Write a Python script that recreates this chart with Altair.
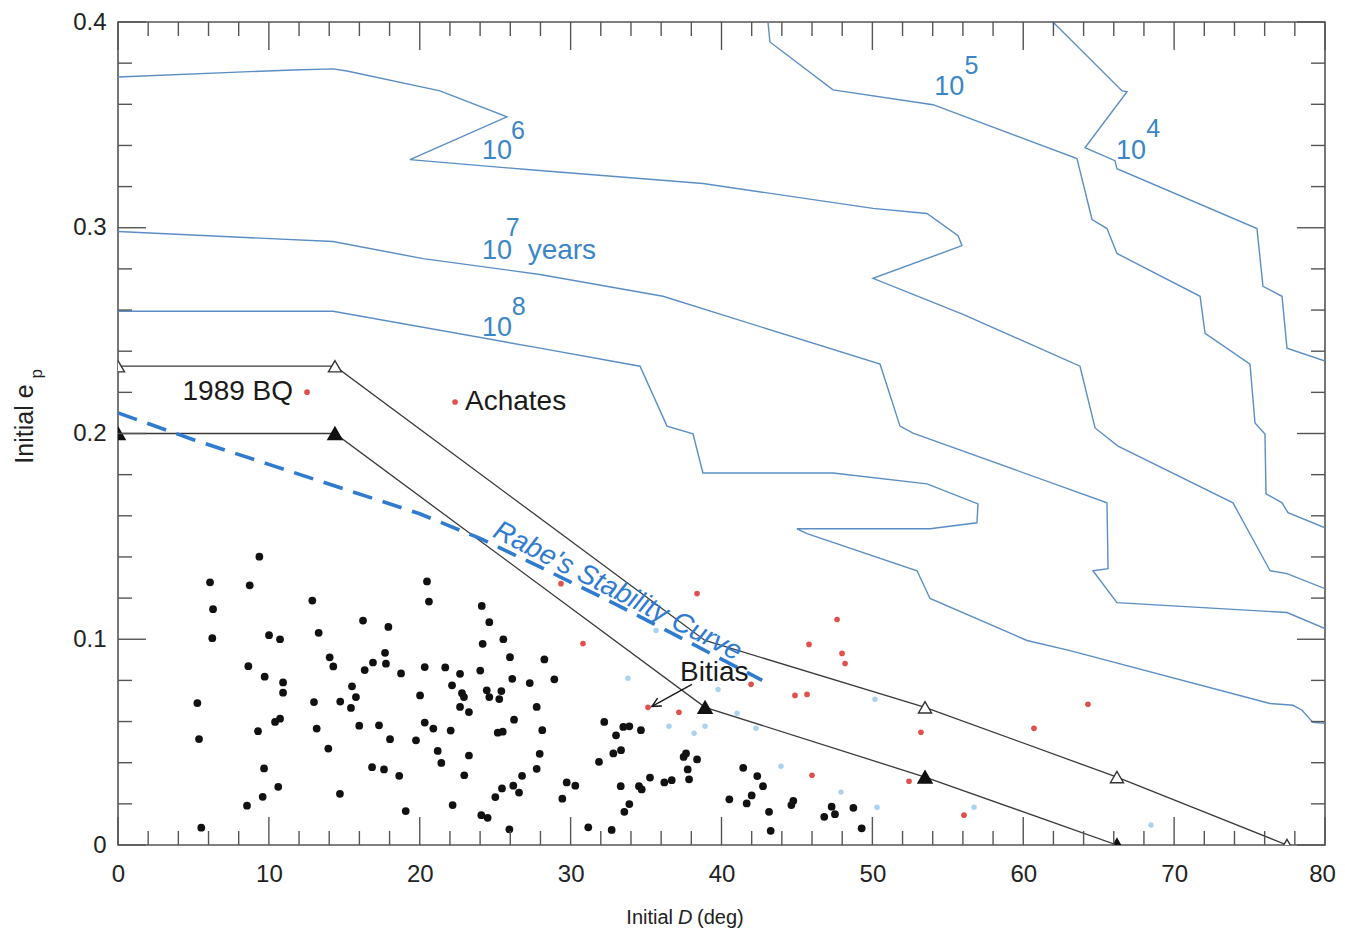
import altair as alt
import pandas as pd

# ---------------- data ----------------
x_major = [0, 10, 20, 30, 40, 50, 60, 70, 80]
x_minor = [2, 4, 6, 8, 12, 14, 16, 18, 22, 24, 26, 28, 32, 34, 36, 38, 42, 44, 46, 48,
           52, 54, 56, 58, 62, 64, 66, 68, 72, 74, 76, 78]
y_major = [0, 0.1, 0.2, 0.3, 0.4]
y_minor = [0.02, 0.04, 0.06, 0.08, 0.12, 0.14, 0.16, 0.18, 0.22, 0.24, 0.26, 0.28,
           0.32, 0.34, 0.36, 0.38]

black_D = [9.37, 6.10, 8.73, 12.88, 6.30, 10.01, 10.74, 6.25, 13.30, 14.03,
           14.27, 8.64, 9.72, 10.94, 10.94, 15.51, 5.26, 12.99, 14.73, 15.44,
           5.37, 9.28, 10.41, 10.74, 13.17, 13.94, 9.68, 10.62, 9.59, 8.55,
           14.71, 5.52, 20.48, 20.61, 16.24, 17.92, 24.11, 24.61, 25.54, 24.17,
           17.70, 16.90, 17.76, 16.35, 18.76, 20.33, 21.69, 22.67, 24.01, 25.98,
           28.26, 26.13, 27.29, 28.92, 15.77, 20.02, 22.14, 22.80, 22.93, 22.67,
           23.26, 24.44, 24.61, 25.27, 25.41, 27.75, 15.99, 17.30, 20.33, 20.90,
           22.05, 26.25, 25.17, 25.50, 28.12, 18.03, 19.75, 21.19, 21.43, 23.26,
           27.95, 16.84, 17.63, 18.64, 22.95, 26.78, 27.75, 25.45, 26.20, 26.58,
           25.01, 29.74, 30.31, 29.45, 19.07, 22.18, 24.08, 24.50, 25.94, 31.17,
           32.23, 33.01, 33.49, 33.89, 34.66, 32.83, 33.34, 31.88, 33.32, 34.53,
           34.71, 35.26, 36.21, 36.70, 37.49, 37.65, 38.38, 37.76, 37.85, 33.89,
           33.56, 32.72, 41.44, 42.37, 42.75, 40.52, 42.00, 41.67, 44.76, 44.63,
           43.15, 43.26, 46.81, 47.30, 47.52, 48.74, 49.29]
black_e = [0.1401, 0.1277, 0.1262, 0.1188, 0.1146, 0.1020, 0.1000, 0.1005, 0.1031, 0.0912,
           0.0868, 0.0869, 0.0818, 0.0790, 0.0740, 0.0771, 0.0690, 0.0695, 0.0697, 0.0666,
           0.0515, 0.0553, 0.0598, 0.0614, 0.0566, 0.0469, 0.0372, 0.0283, 0.0234, 0.0191,
           0.0249, 0.0084, 0.1281, 0.1183, 0.1091, 0.1060, 0.1162, 0.1083, 0.1000, 0.0978,
           0.0934, 0.0887, 0.0881, 0.0850, 0.0834, 0.0865, 0.0863, 0.0832, 0.0848, 0.0913,
           0.0902, 0.0808, 0.0787, 0.0805, 0.0719, 0.0727, 0.0776, 0.0738, 0.0719, 0.0671,
           0.0646, 0.0752, 0.0719, 0.0709, 0.0748, 0.0671, 0.0580, 0.0582, 0.0595, 0.0566,
           0.0556, 0.0609, 0.0546, 0.0551, 0.0558, 0.0514, 0.0509, 0.0457, 0.0399, 0.0435,
           0.0443, 0.0378, 0.0367, 0.0336, 0.0339, 0.0336, 0.0370, 0.0275, 0.0288, 0.0255,
           0.0233, 0.0304, 0.0288, 0.0225, 0.0165, 0.0194, 0.0145, 0.0132, 0.0076, 0.0086,
           0.0598, 0.0533, 0.0574, 0.0577, 0.0558, 0.0445, 0.0461, 0.0404, 0.0286, 0.0286,
           0.0270, 0.0328, 0.0304, 0.0315, 0.0428, 0.0445, 0.0416, 0.0367, 0.0319, 0.0199,
           0.0161, 0.0073, 0.0375, 0.0335, 0.0286, 0.0222, 0.0241, 0.0202, 0.0215, 0.0194,
           0.0161, 0.0069, 0.0137, 0.0186, 0.0150, 0.0181, 0.0081]

red_D = [12.53, 22.34, 29.36, 30.82, 38.38, 45.80, 41.96, 44.87, 45.67, 35.13,
         37.18, 46.00, 47.66, 47.99, 48.19, 53.22, 52.43, 56.07, 60.71, 64.29]
red_e = [0.2201, 0.2153, 0.1270, 0.0979, 0.1222, 0.0975, 0.0781, 0.0727, 0.0732, 0.0669,
         0.0645, 0.0339, 0.1096, 0.0931, 0.0882, 0.0548, 0.0310, 0.0145, 0.0567, 0.0684]

blue_D = [33.80, 35.66, 39.77, 41.03, 36.52, 38.91, 38.18, 42.29, 43.94, 50.17,
          47.92, 50.31, 56.74, 68.47]
blue_e = [0.0810, 0.1042, 0.0756, 0.0640, 0.0577, 0.0577, 0.0543, 0.0567, 0.0383, 0.0708,
          0.0257, 0.0184, 0.0184, 0.0097]

# contours (lifetime levels)
c4_D = [61.97, 66.55, 66.88, 64.09, 66.08, 66.21, 75.49, 75.89, 77.15, 77.48, 80.0]
c4_e = [0.4000, 0.3665, 0.3661, 0.3389, 0.3326, 0.3287, 0.2996, 0.2715, 0.2667, 0.2415, 0.2352]
c5_D = [43.08, 43.21, 47.39, 54.02, 63.56, 64.56, 65.55, 66.21, 71.72, 72.05, 75.03,
        75.36, 76.02, 76.09, 77.15, 77.55, 80.0]
c5_e = [0.4000, 0.3903, 0.3670, 0.3598, 0.3336, 0.3040, 0.2996, 0.2875, 0.2667, 0.2487,
        0.2337, 0.2051, 0.1998, 0.1707, 0.1663, 0.1615, 0.1542]
c6_D = [0.0, 11.60, 14.25, 15.18, 21.34, 25.78, 19.35, 27.11, 38.77, 50.04, 53.62, 55.68,
        55.94, 50.04, 56.01, 63.76, 64.76, 66.28, 73.90, 76.36, 77.48, 80.0]
c6_e = [0.3733, 0.3767, 0.3772, 0.3762, 0.3665, 0.3539, 0.3331, 0.3283, 0.3215, 0.3094,
        0.3069, 0.2961, 0.2913, 0.2754, 0.2579, 0.2327, 0.2027, 0.1939, 0.1663, 0.1333,
        0.1319, 0.1246]
c7_D = [0.0, 14.25, 20.22, 27.97, 36.12, 50.51, 51.83, 52.69, 65.55, 65.62, 64.62, 66.21,
        77.48, 80.0]
c7_e = [0.2982, 0.2933, 0.2850, 0.2773, 0.2667, 0.2337, 0.2036, 0.2002, 0.1663, 0.1343,
        0.1333, 0.1178, 0.1130, 0.1052]
c8_D = [0.0, 14.25, 27.97, 34.60, 36.39, 38.11, 38.77, 47.39, 53.62, 57.00, 56.93, 53.82,
        45.00, 45.67, 52.96, 53.82, 60.25, 63.10, 76.35, 77.88, 78.48, 79.20, 80.0]
c8_e = [0.2594, 0.2594, 0.2415, 0.2327, 0.2036, 0.1998, 0.1808, 0.1808, 0.1755, 0.1658,
        0.1566, 0.1537, 0.1537, 0.1513, 0.1333, 0.1198, 0.0994, 0.0945, 0.0688, 0.0679,
        0.0655, 0.0596, 0.0592]

# stability boundaries
low_D = [0.0, 14.38, 38.91, 53.49, 66.21]
low_e = [0.200, 0.200, 0.0669, 0.0330, 0.0]
up_D = [0.0, 14.38, 38.91, 53.49, 66.21, 77.48]
up_e = [0.2327, 0.2327, 0.0994, 0.0669, 0.0330, 0.0]
up_tri_D = [0.0, 14.38, 53.49, 66.21, 77.48]
up_tri_e = [0.2327, 0.2327, 0.0669, 0.0330, 0.0]

# Rabe's stability curve
rabe_D = [0.0, 5.0, 10.0, 15.0, 20.0, 24.0, 28.0, 33.0, 38.0, 42.7]
rabe_e = [0.210, 0.197, 0.185, 0.173, 0.161, 0.149, 0.135, 0.117, 0.098, 0.080]

# annotation texts
name_text = ["1989 BQ", "Achates", "Bitias"]
name_D = [11.60, 23.00, 37.25]
name_e = [0.2201, 0.2153, 0.0834]
name_align = ["right", "left", "left"]

lvl_base_text = ["10", "10", "10", "10", "10"]
lvl_base_D = [24.12, 24.12, 24.12, 54.10, 66.15]
lvl_base_e = [0.3336, 0.2846, 0.2473, 0.3646, 0.3336]
lvl_exp_text = ["6", "7", "8", "5", "4"]
lvl_exp_D = [26.05, 25.70, 26.10, 56.10, 68.15]
lvl_exp_e = [0.3433, 0.2958, 0.2575, 0.3748, 0.3442]
years_D, years_e = 27.15, 0.2846

arrow_D, arrow_e, arrow_D2, arrow_e2 = 38.04, 0.0781, 35.39, 0.0674

# ---------------- helpers ----------------
W, H = 1207, 823
FONT = "Liberation Sans"
xs = alt.Scale(domain=[0, 80], nice=False, zero=False)
ys = alt.Scale(domain=[0, 0.4], nice=False, zero=False)

def X(f="D"):
    return alt.X(f"{f}:Q", scale=xs, title=None,
                 axis=alt.Axis(values=x_major, labelFlush=False, format="d", labelPadding=17,
                               labelOffset={"condition": {"test": "datum.value == 80", "value": -3},
                                            "value": 0}))

def Y(f="e"):
    return alt.Y(f"{f}:Q", scale=ys, title=None,
                 axis=alt.Axis(values=y_major, labelFlush=False, labelPadding=12,
                               labelExpr="datum.value == 0 ? '0' : format(datum.value, '.1f')"))

def df(D, e, **extra):
    d = pd.DataFrame({"D": D, "e": e})
    d["i"] = range(len(d))
    for k, v in extra.items():
        d[k] = v
    return d

contours = pd.concat([
    df(c4_D, c4_e, lvl="1e4"), df(c5_D, c5_e, lvl="1e5"), df(c6_D, c6_e, lvl="1e6"),
    df(c7_D, c7_e, lvl="1e7"), df(c8_D, c8_e, lvl="1e8")])
bounds = pd.concat([df(low_D, low_e, b="low"), df(up_D, up_e, b="up")])

contour_layer = alt.Chart(contours).mark_line(color="#5b8ec4", strokeWidth=1.4, clip=True).encode(
    x=X(), y=Y(), detail="lvl:N", order="i:Q")
bound_layer = alt.Chart(bounds).mark_line(color="#3a3a3a", strokeWidth=1.3, clip=True).encode(
    x=X(), y=Y(), detail="b:N", order="i:Q")
rabe_layer = alt.Chart(df(rabe_D, rabe_e)).mark_line(
    color="#2f7bd0", strokeWidth=3.6, strokeDash=[20, 11], clip=True).encode(
    x=X(), y=Y(), order="i:Q")

black_layer = alt.Chart(df(black_D, black_e)).mark_circle(size=60, color="#111111", opacity=1).encode(
    x=X(), y=Y())
red_layer = alt.Chart(df(red_D, red_e)).mark_circle(size=32, color="#e0504c", opacity=1).encode(
    x=X(), y=Y())
blue_layer = alt.Chart(df(blue_D, blue_e)).mark_circle(size=30, color="#a9d3ee", opacity=1).encode(
    x=X(), y=Y())

tri_fill = alt.Chart(df(low_D, low_e)).mark_point(
    shape="triangle-up", size=170, filled=True, fill="#111111", stroke="#111111",
    opacity=1, clip=True).encode(x=X(), y=Y())
tri_open = alt.Chart(df(up_tri_D, up_tri_e)).mark_point(
    shape="triangle-up", size=170, filled=True, fill="white", stroke="#333333",
    strokeWidth=1.4, opacity=1, clip=True).encode(x=X(), y=Y())

# ticks (inward, all four sides)
tx_maj = pd.DataFrame({"D": x_major})
tx_min = pd.DataFrame({"D": x_minor})
ty_maj = pd.DataFrame({"e": y_major})
ty_min = pd.DataFrame({"e": y_minor})
TC = "#555555"
ticks = [
    alt.Chart(tx_maj).mark_rule(color=TC, strokeWidth=1.4).encode(x=X(), y=alt.value(H), y2=alt.value(H - 28)),
    alt.Chart(tx_min).mark_rule(color=TC, strokeWidth=1.4).encode(x=X(), y=alt.value(H), y2=alt.value(H - 14)),
    alt.Chart(tx_maj).mark_rule(color=TC, strokeWidth=1.4).encode(x=X(), y=alt.value(0), y2=alt.value(28)),
    alt.Chart(tx_min).mark_rule(color=TC, strokeWidth=1.4).encode(x=X(), y=alt.value(0), y2=alt.value(14)),
    alt.Chart(ty_maj).mark_rule(color=TC, strokeWidth=1.4).encode(y=Y(), x=alt.value(0), x2=alt.value(28)),
    alt.Chart(ty_min).mark_rule(color=TC, strokeWidth=1.4).encode(y=Y(), x=alt.value(0), x2=alt.value(14)),
    alt.Chart(ty_maj).mark_rule(color=TC, strokeWidth=1.4).encode(y=Y(), x=alt.value(W), x2=alt.value(W - 28)),
    alt.Chart(ty_min).mark_rule(color=TC, strokeWidth=1.4).encode(y=Y(), x=alt.value(W), x2=alt.value(W - 14)),
]

# annotations
names = pd.DataFrame({"D": name_D, "e": name_e, "t": name_text, "a": name_align})
name_layers = [
    alt.Chart(names[names.a == a]).mark_text(
        font=FONT, fontSize=28, color="#1a1a1a", align=a, baseline="middle").encode(
        x=X(), y=Y(), text="t:N")
    for a in ["left", "right"]
]
LBLC = "#3a86c8"
lvl_base = alt.Chart(pd.DataFrame({"D": lvl_base_D, "e": lvl_base_e, "t": lvl_base_text})).mark_text(
    font=FONT, fontSize=27, color=LBLC, align="left", baseline="alphabetic").encode(
    x=X(), y=Y(), text="t:N")
lvl_exp = alt.Chart(pd.DataFrame({"D": lvl_exp_D, "e": lvl_exp_e, "t": lvl_exp_text})).mark_text(
    font=FONT, fontSize=25, color=LBLC, align="left", baseline="alphabetic").encode(
    x=X(), y=Y(), text="t:N")
years = alt.Chart(pd.DataFrame({"D": [years_D], "e": [years_e], "t": ["years"]})).mark_text(
    font=FONT, fontSize=28, color=LBLC, align="left", baseline="alphabetic").encode(
    x=X(), y=Y(), text="t:N")
rabe_lbl = alt.Chart(pd.DataFrame({"D": [33.1], "e": [0.1232], "t": ["Rabe's Stability Curve"]})).mark_text(
    font=FONT, fontSize=28, fontStyle="italic", color="#2f7bd0", angle=27,
    align="center", baseline="middle").encode(x=X(), y=Y(), text="t:N")

arrow_shaft = alt.Chart(pd.DataFrame({"D": [arrow_D], "e": [arrow_e], "D2": [arrow_D2], "e2": [arrow_e2]})).mark_rule(
    color="#1a1a1a", strokeWidth=1.4).encode(x=X(), y=Y(), x2="D2:Q", y2="e2:Q")
arrow_head = alt.Chart(pd.DataFrame({"D": [arrow_D2], "e": [arrow_e2]})).mark_point(
    shape="M -0.5 1 L 0 0 L 0.5 1", size=320, filled=False, stroke="#1a1a1a",
    strokeWidth=1.5, angle=241, opacity=1).encode(x=X(), y=Y())

# axis titles
xt = pd.DataFrame({"D": [36.79, 37.60, 38.38], "e": [-0.0354, -0.0354, -0.0354],
                   "t": ["Initial", "D", "(deg)"]})
xtitle = [
    alt.Chart(xt.iloc[[0]]).mark_text(font=FONT, fontSize=20, color="#222", align="right",
                                      baseline="middle").encode(x=X(), y=Y(), text="t:N"),
    alt.Chart(xt.iloc[[1]]).mark_text(font=FONT, fontSize=20, fontStyle="italic", color="#222",
                                      align="center", baseline="middle").encode(x=X(), y=Y(), text="t:N"),
    alt.Chart(xt.iloc[[2]]).mark_text(font=FONT, fontSize=20, color="#222", align="left",
                                      baseline="middle").encode(x=X(), y=Y(), text="t:N"),
]
ytitle = [
    alt.Chart(pd.DataFrame({"D": [-6.16], "e": [0.2046], "t": ["Initial e"]})).mark_text(
        font=FONT, fontSize=25, color="#222", angle=270, align="center", baseline="middle").encode(
        x=X(), y=Y(), text="t:N"),
    alt.Chart(pd.DataFrame({"D": [-5.35], "e": [0.2290], "t": ["p"]})).mark_text(
        font=FONT, fontSize=17, color="#222", angle=270, align="center", baseline="middle").encode(
        x=X(), y=Y(), text="t:N"),
]

chart = alt.layer(
    contour_layer, bound_layer, rabe_layer,
    blue_layer, red_layer, black_layer,
    tri_fill, tri_open,
    *ticks,
    *name_layers, lvl_base, lvl_exp, years, rabe_lbl, arrow_shaft, arrow_head,
    *xtitle, *ytitle,
).properties(
    width=W, height=H,
    autosize=alt.AutoSizeParams(type="none"),
    padding={"left": 110, "top": 14, "right": 12, "bottom": 95},
    background="white",
).configure_view(
    stroke="#555555", strokeWidth=1.6
).configure_axis(
    domain=False, ticks=False, grid=False,
    labelFont=FONT, labelFontSize=24, labelColor="#222222",
    labelOverlap=False,
)

chart.save("out.html", embed_options={"renderer": "svg", "actions": False})
